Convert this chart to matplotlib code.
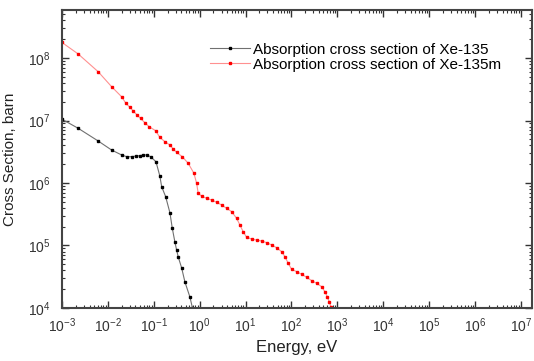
import numpy as np
import matplotlib
matplotlib.use("Agg")
import matplotlib.pyplot as plt
from matplotlib.ticker import LogLocator, NullFormatter

plt.rcParams['font.family'] = ['Liberation Sans', 'DejaVu Sans']
plt.rcParams['mathtext.fontset'] = 'custom'
plt.rcParams['mathtext.rm'] = 'Liberation Sans'
plt.rcParams['mathtext.it'] = 'Liberation Sans'

# Xe-135 (black)
e_xe = [1.0e-3, 2.27e-3, 6.17e-3, 1.21e-2, 2.00e-2, 2.57e-2, 3.30e-2, 4.09e-2,
        5.01e-2, 5.91e-2, 7.00e-2, 8.55e-2, 0.112, 0.136, 0.149, 0.182, 0.226,
        0.253, 0.289, 0.315, 0.342, 0.406, 0.478, 0.614, 0.698]
s_xe = [1.05e7, 7.5e6, 4.70e6, 3.37e6, 2.81e6, 2.64e6, 2.64e6, 2.70e6,
        2.74e6, 2.81e6, 2.81e6, 2.64e6, 2.19e6, 1.29e6, 8.73e5, 6.04e5, 3.31e5,
        1.91e5, 1.14e5, 8.47e4, 6.55e4, 4.37e4, 2.61e4, 1.50e4, 1.0e4]

# Xe-135m (red)
e_xem = [1.0e-3, 2.27e-3, 6.17e-3, 1.21e-2, 2.00e-2, 2.48e-2, 3.03e-2, 3.58e-2,
         4.37e-2, 5.18e-2, 6.43e-2, 7.97e-2, 0.110, 0.136, 0.175, 0.225,
         0.266, 0.315, 0.418, 0.564, 0.752, 0.860, 0.932, 1.105, 1.42, 1.83,
         2.34, 3.02, 3.87, 4.99, 6.40, 7.55, 8.90, 10.6, 13.6, 17.5, 22.4,
         28.8, 37.1, 47.6, 61.1, 72.3, 85.2, 101, 130, 167, 214, 276, 354,
         455, 537, 603, 666, 725]
s_xem = [1.78e8, 1.16e8, 6.04e7, 3.48e7, 2.40e7, 1.88e7, 1.63e7, 1.42e7,
         1.22e7, 1.08e7, 9.2e6, 7.96e6, 6.87e6, 5.38e6, 4.58e6, 4.06e6,
         3.50e6, 3.10e6, 2.64e6, 2.07e6, 1.43e6, 9.9e5, 6.84e5, 6.17e5, 5.69e5,
         5.35e5, 4.91e5, 4.45e5, 3.94e5, 3.48e5, 2.72e5, 2.13e5, 1.66e5, 1.35e5,
         1.27e5, 1.22e5, 1.18e5, 1.11e5, 1.02e5, 9.2e4, 7.96e4, 6.62e4, 5.19e4,
         4.16e4, 3.81e4, 3.46e4, 3.10e4, 2.74e4, 2.48e4, 2.19e4, 1.82e4, 1.52e4,
         1.26e4, 1.05e4]

fig = plt.figure(figsize=(5.34, 3.61), dpi=100)
ax = fig.add_axes([0.116, 0.147, 0.880, 0.825])

ax.plot(e_xe, s_xe, '-', color='#707070', lw=0.8, marker='s', ms=1.5,
        mfc='black', mec='black', label='Absorption cross section of Xe-135')
ax.plot(e_xem, s_xem, '-', color='#ff9090', lw=0.8, marker='s', ms=1.5,
        mfc='red', mec='red', label='Absorption cross section of Xe-135m')

ax.set_xscale('log')
ax.set_yscale('log')
ax.set_xlim(1e-3, 10 ** 7.24)
ax.set_ylim(1e4, 10 ** 8.768)

ax.xaxis.set_major_locator(LogLocator(base=10, numticks=20))
ax.xaxis.set_minor_locator(LogLocator(base=10, subs=np.arange(2, 10), numticks=100))
ax.xaxis.set_minor_formatter(NullFormatter())
ax.yaxis.set_major_locator(LogLocator(base=10, numticks=20))
ax.yaxis.set_minor_locator(LogLocator(base=10, subs=np.arange(2, 10), numticks=100))
ax.yaxis.set_minor_formatter(NullFormatter())

ax.tick_params(which='both', direction='in', top=True, right=True,
               color='#333333')
ax.tick_params(which='major', length=5, width=1.0, labelsize=10, pad=6,
               labelcolor='#333333')
ax.tick_params(axis='y', which='major', pad=8)
ax.tick_params(which='minor', length=2.5, width=0.8)
for sp in ax.spines.values():
    sp.set_linewidth(1.5)
    sp.set_color('#444444')

ax.set_xlabel('Energy, eV', fontsize=12, color='#222222', labelpad=4)
ax.set_ylabel('Cross Section, barn', fontsize=11, color='#222222', labelpad=8)

ax.legend(loc='upper left', bbox_to_anchor=(0.315, 0.891), frameon=False,
          fontsize=11, handlelength=2.6, handletextpad=0.2, labelspacing=0.08,
          numpoints=1, borderaxespad=0, borderpad=0)

fig.savefig('out.png', dpi=100)
